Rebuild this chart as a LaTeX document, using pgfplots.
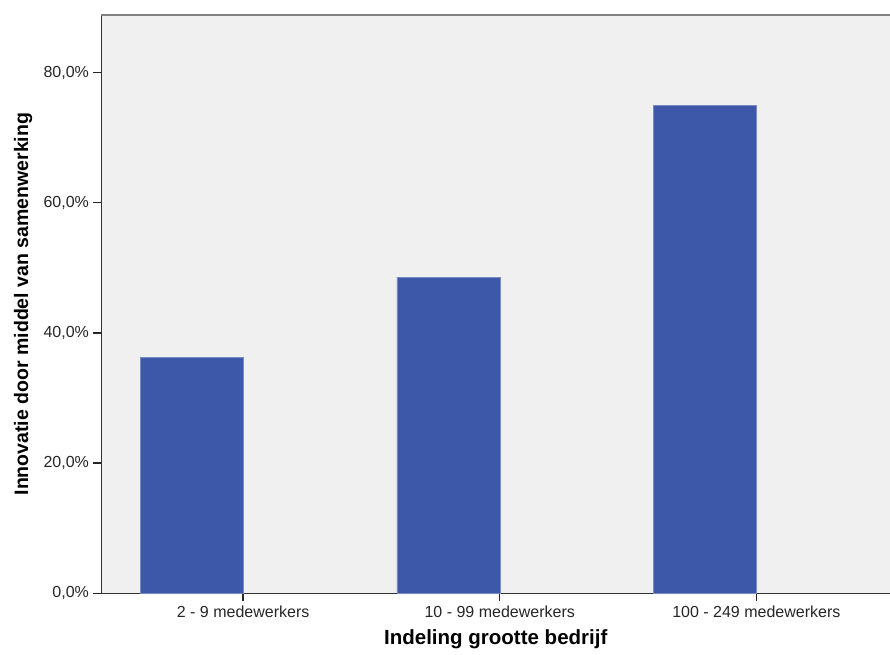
\documentclass[border=0pt]{standalone}
\usepackage{pgfplots}
\pgfplotsset{compat=1.18}
\usepackage{fontspec}
\setmainfont{Liberation Sans}
\definecolor{barblue}{HTML}{3D58A9}
\definecolor{baredge}{HTML}{7A8CC4}
\definecolor{bg}{HTML}{F0F0F0}
\begin{document}
\begin{tikzpicture}[x=1pt,y=1pt]
\useasboundingbox (-101.5,-60.7) rectangle (788.5,593.3);
\begin{axis}[
  at={(0,0)}, anchor=south west,
  scale only axis, width=788.5pt, height=578.3pt,
  xmin=-0.352, xmax=2.721, ymin=0, ymax=88.86,
  axis x line*=bottom, axis y line*=left,
  axis line style={black!80, line width=1pt},
  axis background/.style={fill=bg},
  ytick={0,20,40,60,80},
  yticklabels={{0,0\%},{20,0\%},{40,0\%},{60,0\%},{80,0\%}},
  xtick={0.2,1.2,2.2},
  xticklabels={2 - 9 medewerkers,10 - 99 medewerkers,100 - 249 medewerkers},
  tick align=outside, major tick length=8pt,
  tick style={black!85, line width=1.3pt},
  ticklabel style={font=\fontsize{16}{16}\selectfont, text=black!85},
  yticklabel style={xshift=-1pt},
  xticklabel style={yshift=-1pt},
  xlabel={Indeling grootte bedrijf},
  ylabel={Innovatie door middel van samenwerking},
  label style={font=\bfseries\fontsize{19.5}{19.5}\selectfont},
  xlabel style={at={(axis description cs:0.5,-0.0795)}, anchor=center, font=\bfseries\fontsize{20.5}{20.5}\selectfont},
  ylabel style={at={(axis description cs:-0.0995,0.5)}, anchor=center, rotate=0},
  ybar, bar width=103pt, bar shift=0pt,
  clip=false,
]
\addplot[fill=barblue, draw=baredge, line width=0.6pt] coordinates {(0,36.26) (1,48.60) (2,74.98)};
\draw[black!50, line width=1.6pt] (rel axis cs:0,1) -- (rel axis cs:1,1);
\end{axis}
\end{tikzpicture}
\end{document}
